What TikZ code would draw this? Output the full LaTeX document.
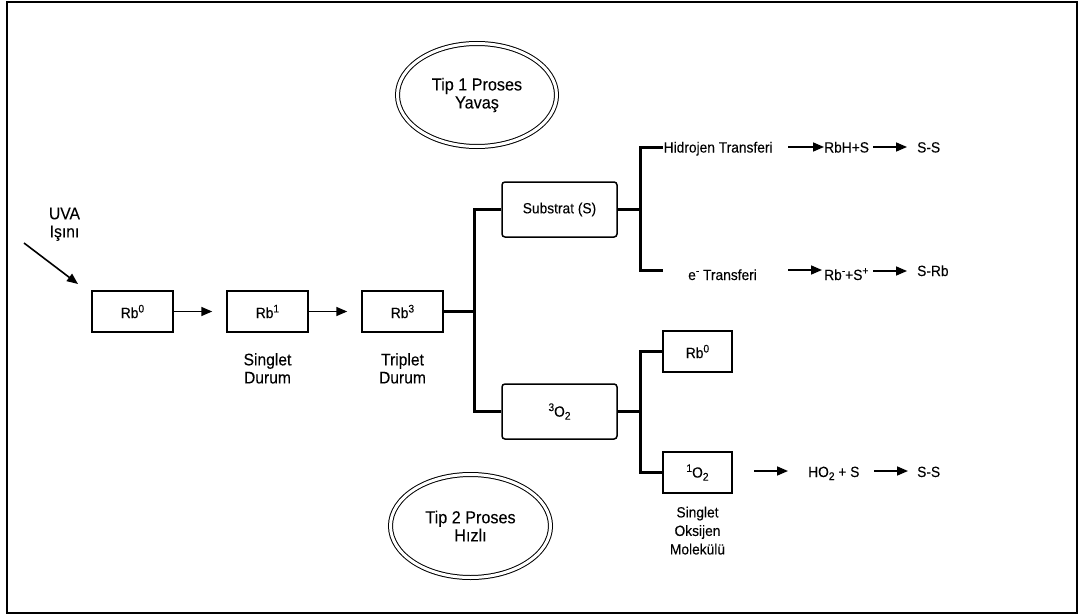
\documentclass[tikz,border=0pt]{standalone}
\usepackage{fontspec}
\setmainfont{Liberation Sans}[FakeStretch=0.93,FakeBold=0.1]
\usetikzlibrary{arrows.meta,shapes.geometric}
\newcommand\su[1]{\raisebox{5.6pt}{\fontsize{11}{11}\selectfont #1}}
\newcommand\sd[1]{\raisebox{-3pt}{\fontsize{11}{11}\selectfont #1}}
\begin{document}
\begin{tikzpicture}[x=1pt,y=-1pt,
  box/.style={draw,line width=1.5pt,inner sep=0pt,font=\fontsize{14.8}{17}\selectfont},
  rbox/.style={box,rounded corners=3pt},
  txt/.style={inner sep=0pt,font=\fontsize{14.8}{17}\selectfont},
  arr/.style={line width=1.6pt,-{Triangle[length=11pt,width=9pt]}},
  conn/.style={line width=3pt},
  ell/.style={ellipse,draw,double,double distance=3pt,line width=1pt,inner sep=0pt,align=center,font=\fontsize{17.4}{18}\selectfont},
  lbl/.style={inner sep=0pt,align=center,anchor=north}]

\useasboundingbox (0,0) rectangle (1078,615);
\draw[line width=2pt] (7,2) rectangle (1076.5,612.5);

% ellipses
\node[ell,minimum width=159,minimum height=103] (tip1) at (477,95) {Tip 1 Proses\\Yava\c{s}};
\node[ell,minimum width=160,minimum height=103] (tip2) at (470.5,526) {Tip 2 Proses\\H\i zl\i};

% main chain
\node[box,minimum width=81,minimum height=41] (rb0) at (132.5,311.5) {Rb\su{0}};
\node[box,minimum width=81,minimum height=41] (rb1) at (267.5,311.5) {Rb\su{1}};
\node[box,minimum width=81,minimum height=41] (rb3) at (402.5,311.5) {Rb\su{3}};

\node[lbl,font=\fontsize{16.8}{18}\selectfont] (uva) at (64.5,207.5) {UVA\\I\c{s}\i n\i};
\node[lbl,font=\fontsize{16.8}{18}\selectfont] (sd) at (267.5,353) {Singlet\\Durum};
\node[lbl,font=\fontsize{16.8}{18}\selectfont] (td) at (402.5,353) {Triplet\\Durum};

\coordinate (u1) at (24,243);
\coordinate (u2) at (78,284);
\draw[arr] (u1) -- (u2);
\draw[arr] (rb0.east) -- ([xshift=-14pt]rb1.west);
\draw[arr] (rb1.east) -- ([xshift=-14pt]rb3.west);

% second level
\node[rbox,minimum width=115,minimum height=55] (sub) at (559.5,209.5) {Substrat (S)};
\node[rbox,minimum width=115,minimum height=55] (o3) at (559.5,411.5) {\su{3}O\sd{2}};

\coordinate (j1) at (474,311.5);
\draw[conn] (rb3.east) -- (j1);
\draw[conn] (sub.west) -| (j1) |- (o3.west);

% substrate branch
\coordinate (j2) at (640,209.5);
\coordinate (h1) at (663,147);
\coordinate (e1) at (663,270);
\draw[conn] (sub.east) -- (j2);
\draw[conn] (h1) -| (j2) |- (e1);

\node[txt,anchor=base west] (hid) at (663.5,152.5) {Hidrojen Transferi};
\node[txt,anchor=base west] (rbh) at (824,152.5) {RbH+S};
\node[txt,anchor=base west] (ss1) at (917,152.5) {S-S};
\coordinate (a1) at (788,147);
\coordinate (a2) at (873,147);
\coordinate (a2e) at (907,147);
\draw[arr] (a1) -- (a1 -| rbh.west);
\draw[arr] (a2) -- (a2e);

\node[txt,anchor=base west] (etr) at (688,280) {e\su{-} Transferi};
\node[txt,anchor=base west] (rbs) at (824,280) {Rb\su{-}+S\su{+}};
\node[txt,anchor=base west] (srb) at (917,276) {S-Rb};
\coordinate (b1) at (788,270);
\coordinate (b1e) at (822,270);
\coordinate (b2) at (873,271);
\coordinate (b2e) at (907,271);
\draw[arr] (b1) -- (b1e);
\draw[arr] (b2) -- (b2e);

% oxygen branch
\node[box,minimum width=69,minimum height=41] (rb0b) at (697.5,351.5) {Rb\su{0}};
\node[box,minimum width=69,minimum height=41] (o1) at (697.5,472.5) {\su{1}O\sd{2}};
\coordinate (j3) at (640,411.5);
\draw[conn] (o3.east) -- (j3);
\draw[conn] (rb0b.west) -| (j3) |- (o1.west);

\node[lbl,font=\fontsize{14.8}{18.5}\selectfont] (som) at (697.5,506.5) {Singlet\\Oksijen\\Molek\"ul\"u};

\node[txt,anchor=base west] (ho2) at (808,477) {HO\sd{2} + S};
\node[txt,anchor=base west] (ss2) at (917,477) {S-S};
\coordinate (c1) at (754,471);
\coordinate (c1e) at (788,471);
\coordinate (c2) at (874,471);
\coordinate (c2e) at (908,471);
\draw[arr] (c1) -- (c1e);
\draw[arr] (c2) -- (c2e);
\end{tikzpicture}
\end{document}
